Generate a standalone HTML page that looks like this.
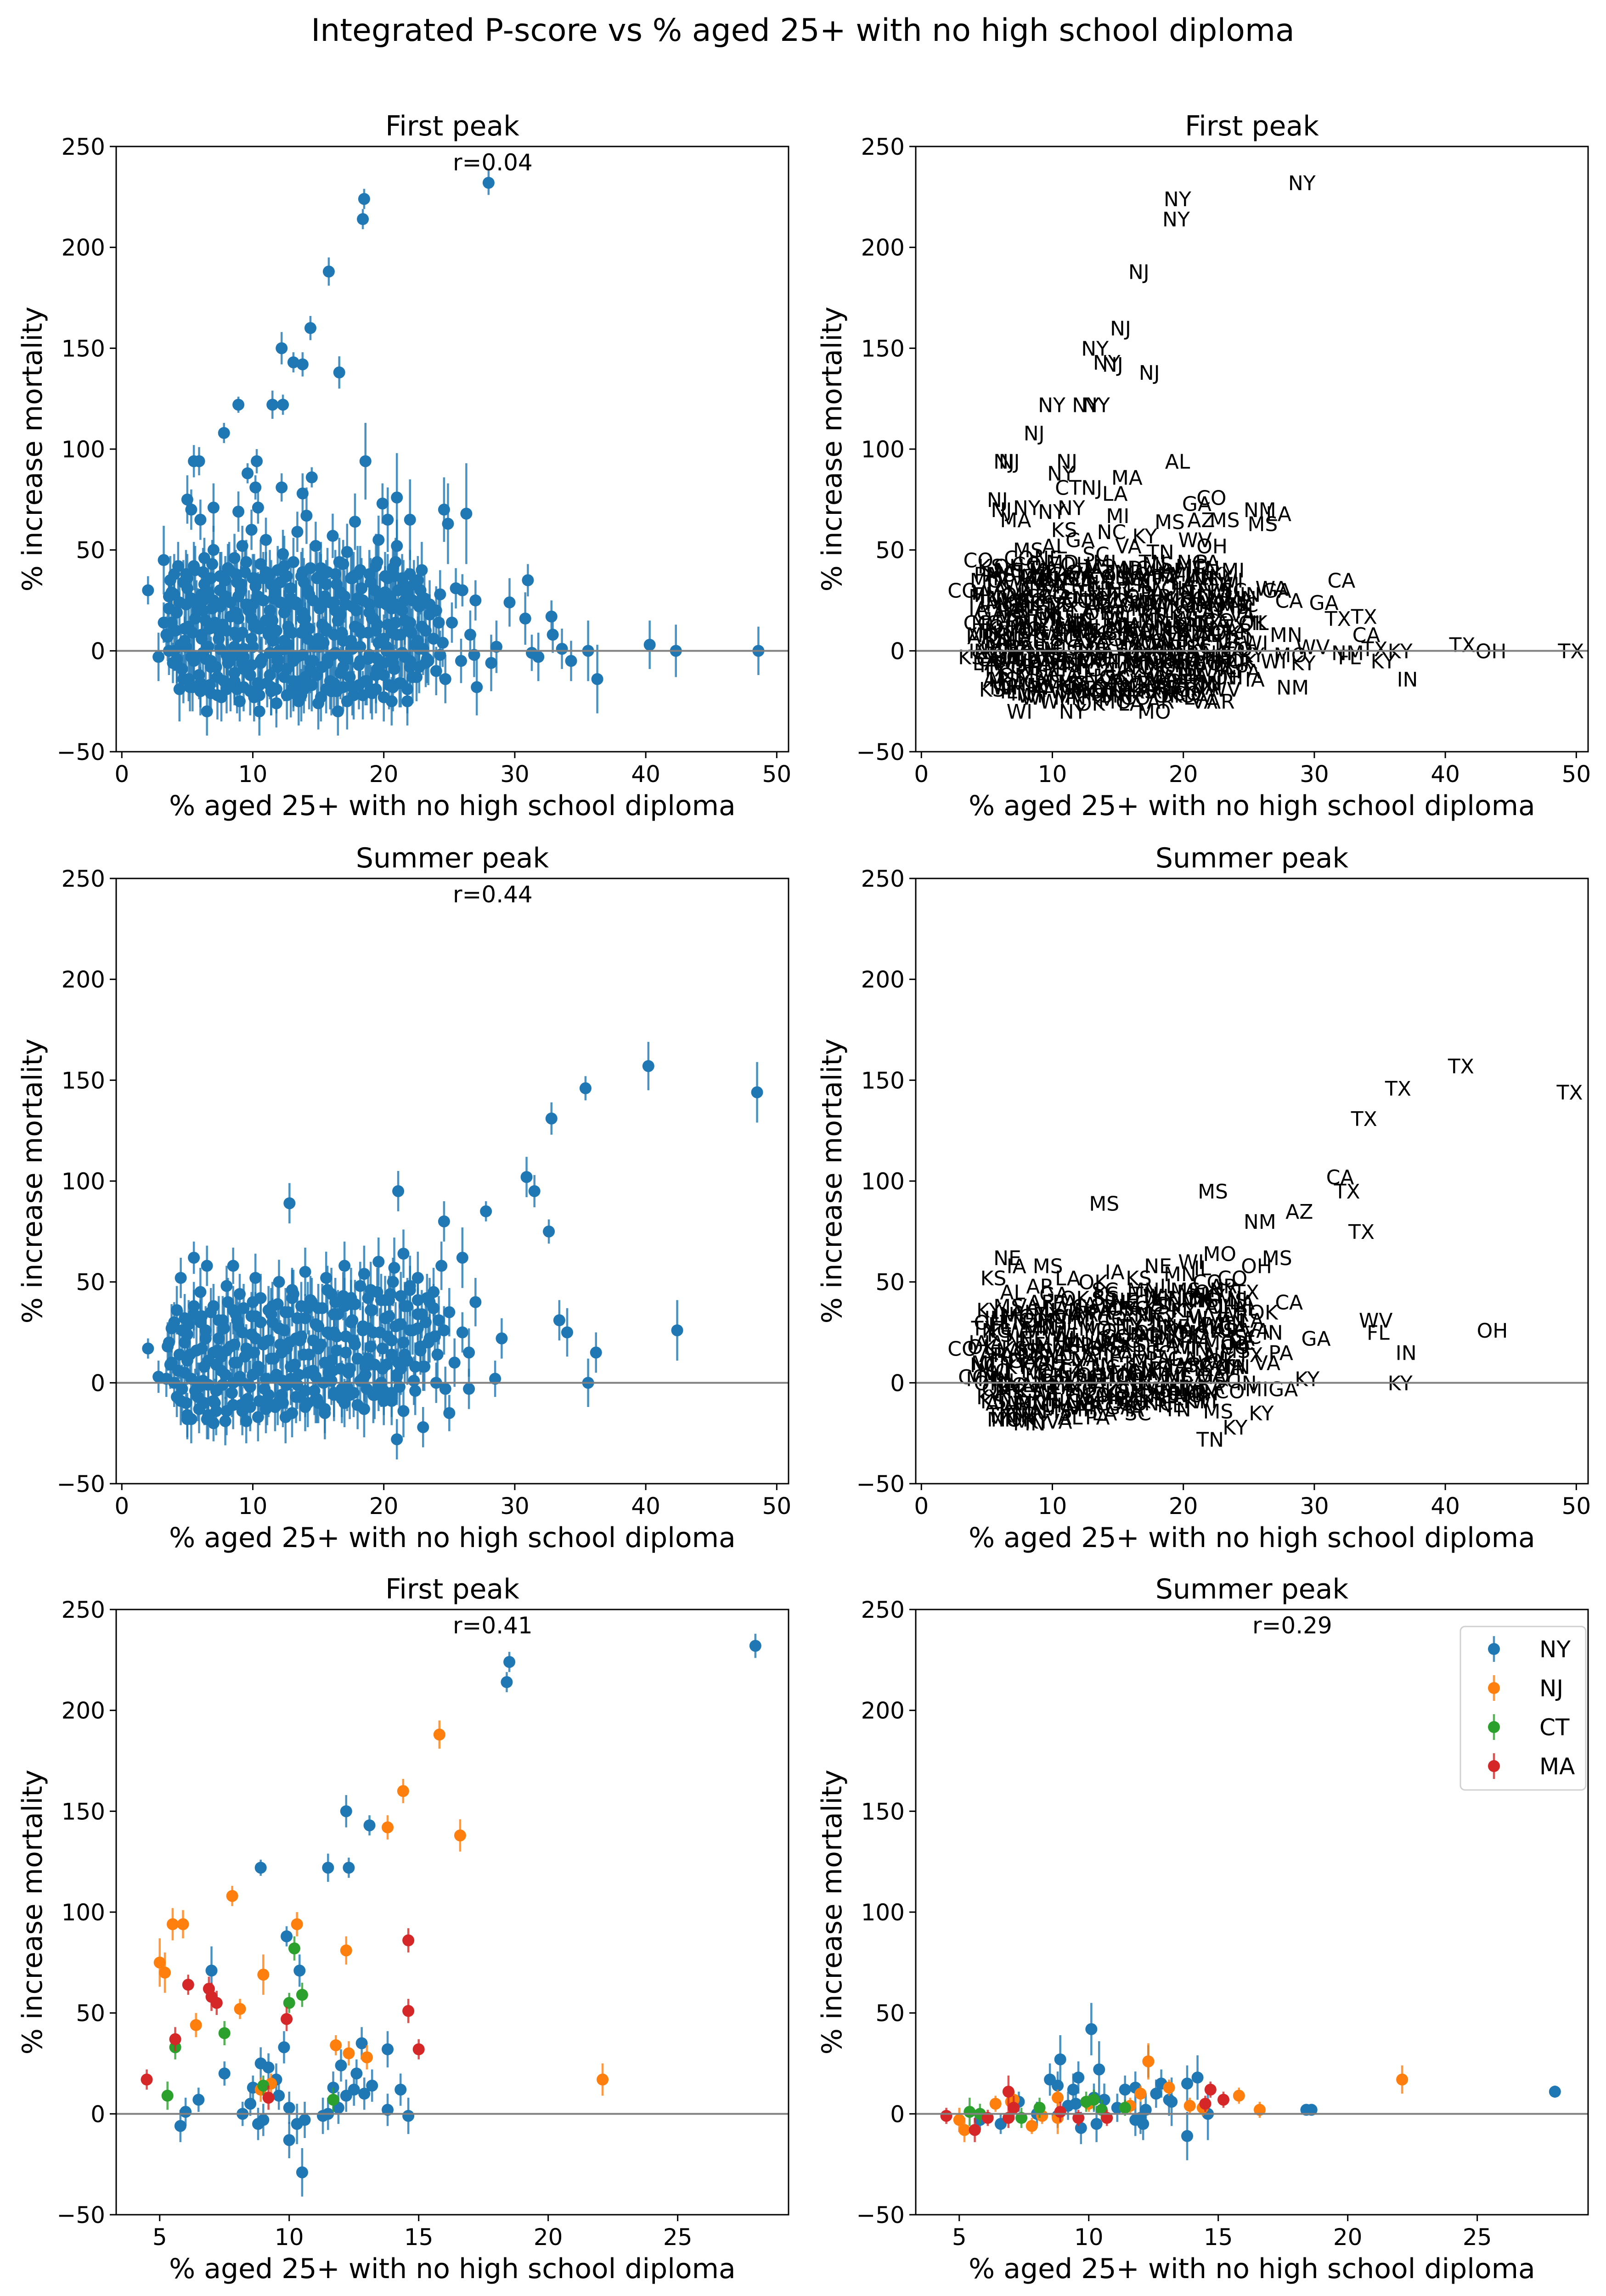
<!DOCTYPE html>
<html><head><meta charset="utf-8">
<style>
html,body{margin:0;padding:0;background:#fff;overflow:hidden;width:3497px;height:5026px;}
svg{display:block;font-family:"DejaVu Sans","Liberation Sans",sans-serif;}
</style></head>
<body>
<svg id="fig" width="3497" height="5026" viewBox="0 0 3497 5026" xmlns="http://www.w3.org/2000/svg">
<rect width="3497" height="5026" fill="#fff"/>
<text x="1748" y="89" font-size="68" text-anchor="middle" fill="#000">Integrated P-score vs % aged 25+ with no high school diploma</text>
</svg>
<script>
// ---------- DATA ----------
// First peak: outliers [x, y, err, state]
const firstOutliers = [
[28,232,6,'NY'],[18.5,224,5,'NY'],[18.4,214,5,'NY'],[15.8,188,7,'NJ'],[14.4,160,6,'NJ'],[12.2,150,8,'NY'],[13.1,143,5,'NY'],[13.8,142,6,'NJ'],[16.6,138,8,'NJ'],[11.5,122,7,'NY'],[12.3,122,5,'NY'],[8.9,122,4,'NY'],[7.8,108,5,'NJ'],[5.5,94,8,'NJ'],[5.9,94,7,'NJ'],[10.3,94,6,'NJ'],[18.6,94,19,'AL'],[9.6,88,5,'NY'],[10.2,81,6,'CT'],[12.2,81,7,'NJ'],[14.5,86,5,'MA'],[13.8,78,10,'LA'],[5,75,12,'NJ'],[5.3,70,10,'NJ'],[7,71,12,'NY'],[8.9,69,10,'NY'],[10.4,71,8,'NY'],[19.9,73,10,'GA'],[21,76,22,'CO'],[24.6,70,16,'NM'],[26.3,68,25,'LA'],[24.9,63,20,'MS'],[17.8,64,14,'MS'],[14.1,67,14,'MI'],[6,65,10,'MA'],[22,65,20,'MS'],[20.3,65,16,'AZ'],[2,30,7,'CO'],[3.2,45,17,'CO'],[31,35,8,'CA'],[32.8,17,8,'TX'],[32.9,8,9,'CA'],[33.6,1,10,'TX'],[34.3,-5,10,'KY'],[35.6,0,15,'KY'],[36.3,-14,17,'IN'],[40.3,3,12,'TX'],[42.3,0,13,'OH'],[48.6,0,12,'TX'],[29.6,24,12,'GA'],[30.8,16,13,'TX'],[31.3,-1,9,'NM'],[31.8,-3,12,'FL'],[28.6,2,13,'WV'],[28.2,-6,14,'KY'],[27.1,-18,14,'NM'],[27,25,10,'CA'],[25.5,31,10,'WA'],[26,30,8,'GA'],[3.8,29,9,'IA'],[3.2,14,10,'CO'],[2.8,-3,12,'KS'],[4.4,-19,16,'KS'],[6.5,-30,12,'WI'],[10.5,-30,12,'NY'],[16.5,-30,12,'MO'],[21.8,-25,12,'AR'],[20.6,-25,12,'VA'],[13.5,-25,12,'MO'],[9,-25,10,'WI']
];
// First peak: dense cloud [x, y, err]
const firstCloud = [
[4,38,10],[5.5,42,12],[6.8,36,9],[8.2,40,14],[9.5,44,11],[11,39,10],[12.4,42,15],[13.7,37,12],[15.2,41,13],[16.6,44,12],[18,38,14],[19.4,42,16],[20.8,37,13],[22.3,33,12],
[3.6,27,9],[5,31,10],[6.2,25,11],[7.5,30,12],[8.9,27,10],[10.2,32,13],[11.6,26,11],[12.9,31,12],[14.3,28,14],[15.6,33,12],[17,27,13],[18.3,31,15],[19.7,26,12],[21.1,30,14],[22.6,24,13],[23.5,18,10],
[4.2,19,10],[5.6,16,9],[6.9,21,11],[8.3,17,12],[9.7,20,10],[11,15,12],[12.4,19,11],[13.8,16,13],[15.1,21,12],[16.5,15,14],[17.9,20,13],[19.2,16,12],[20.6,21,15],[22,14,13],
[3.4,8,9],[4.8,11,10],[6.1,6,11],[7.4,10,12],[8.8,7,10],[10.1,12,13],[11.5,5,11],[12.8,10,12],[14.2,6,13],[15.6,11,12],[16.9,5,14],[18.3,9,13],[19.6,4,12],[21,8,14],[22.4,3,12],[23.8,6,10],
[4,0,10],[5.3,-3,11],[6.6,2,12],[8,-2,10],[9.3,1,13],[10.7,-4,11],[12,0,12],[13.4,-3,13],[14.7,2,12],[16.1,-2,14],[17.5,1,13],[18.8,-4,12],[20.2,0,14],[21.6,-3,12],[23,1,13],
[4.6,-9,11],[5.9,-12,12],[7.2,-8,10],[8.6,-11,13],[9.9,-7,11],[11.3,-12,12],[12.6,-9,13],[14,-13,12],[15.3,-8,14],[16.7,-11,13],[18.1,-7,12],[19.4,-12,14],[20.8,-9,12],[22.2,-13,13],[24,-10,12],
[5.2,-18,12],[6.8,-21,11],[8.3,-17,13],[9.8,-20,12],[11.4,-18,14],[12.9,-21,12],[14.5,-17,13],[16,-20,12],[17.6,-18,14],[19.1,-21,13],[20.4,-17,12],[11.8,-26,12],[17.2,-25,14],[15,-26,13],
[7,50,12],[9.2,52,10],[11,55,11],[12.3,48,12],[13.4,59,10],[14.8,52,12],[16.1,57,11],[17.2,49,14],[19.6,55,12],[21,52,13],[20.9,44,12],[22.9,40,14],[24.3,28,12],[25.2,14,10],[25.9,-5,11],[24.7,-14,12],[26.6,8,12],[26.9,-2,11],[9.9,60,10],[8.6,46,12],[6.3,46,10],
[4.7,34,11],[6.1,28,10],[7.9,35,12],[9.1,33,11],[10.8,36,13],[12.1,34,12],[13.3,24,11],[14.9,36,13],[16.2,24,12],[17.5,36,14],[18.9,23,12],[20.1,29,13],[21.6,25,12],
[4.5,3,10],[5.8,20,11],[7.1,14,12],[8.6,2,10],[9.9,16,12],[11.3,10,11],[12.7,3,13],[14,12,12],[15.4,4,13],[16.7,18,12],[18.2,2,14],[19.5,13,12],[20.9,14,13],[22.1,9,12],[23.2,-6,12],
[3.9,-6,10],[5.1,-14,11],[6.4,-4,12],[7.8,-15,10],[9.2,-6,13],[10.4,-16,11],[11.9,-5,12],[13.1,-15,13],[14.6,-5,12],[15.9,-15,14],[17.2,-4,13],[18.6,-15,12],[20,-6,14],[21.3,-16,12],[22.7,-8,13],
[7.6,-23,12],[10.5,-22,12],[13.7,-22,13],[18.4,-22,12],
[4.3,42],[5.6,40],[6.9,43],[8.1,41],[9.4,39],[10.6,43],[11.9,40],[13.1,44],[14.4,41],[15.7,39],[16.9,43],[18.2,40],[19.5,44],[20.7,41],[22,38],
[3.7,35],[5,36],[6.3,33],[7.6,37],[8.8,34],[10.1,36],[11.4,33],[12.6,37],[13.9,34],[15.2,36],[16.4,33],[17.7,37],[19,34],[20.3,36],[21.5,33],[22.8,30],
[4,28],[5.3,26],[6.6,29],[7.9,27],[9.1,30],[10.4,27],[11.7,29],[12.9,26],[14.2,30],[15.5,27],[16.7,29],[18,26],[19.3,30],[20.5,27],[21.8,29],[23.1,26],
[3.6,21],[4.9,23],[6.2,20],[7.5,22],[8.7,19],[10,23],[11.3,20],[12.5,22],[13.8,19],[15.1,23],[16.3,20],[17.6,22],[18.9,19],[20.2,23],[21.4,20],[22.7,22],[24,20],
[3.8,14],[5.1,12],[6.4,15],[7.7,13],[8.9,16],[10.2,13],[11.5,15],[12.7,12],[14,16],[15.3,13],[16.5,15],[17.8,12],[19.1,16],[20.3,13],[21.6,15],[22.9,12],[24.2,14],
[3.5,7],[4.8,5],[6.1,8],[7.4,6],[8.6,9],[9.9,6],[11.2,8],[12.4,5],[13.7,9],[15,6],[16.2,8],[17.5,5],[18.8,9],[20,6],[21.3,8],[22.6,5],[24.5,4],
[3.6,0],[4.9,2],[6.2,-1],[7.5,1],[8.7,-2],[10,2],[11.3,-1],[12.5,1],[13.8,-2],[15.1,2],[16.3,-1],[17.6,1],[18.9,-2],[20.2,2],[21.4,-1],[22.7,1],[24.3,-2],
[4.2,-7],[5.5,-5],[6.8,-8],[8.1,-6],[9.3,-9],[10.6,-6],[11.9,-8],[13.1,-5],[14.4,-9],[15.7,-6],[16.9,-8],[18.2,-5],[19.5,-9],[20.7,-6],[22,-8],[23.4,-5],
[4.7,-14],[6,-16],[7.3,-13],[8.6,-15],[9.8,-12],[11.1,-16],[12.4,-13],[13.6,-15],[14.9,-12],[16.2,-16],[17.4,-13],[18.7,-15],[20,-12],[21.2,-16],[22.5,-13],
[6,-20],[7.3,-22],[8.8,-19],[10.1,-23],[11.4,-20],[12.6,-22],[13.9,-19],[15.2,-23],[16.4,-20],[17.7,-22],[19,-19],[20,-23],
[4.9,38],[6.2,39],[7.5,37],[8.7,38],[10,36],[11.3,38],[12.5,37],[13.8,39],[15.1,37],[16.3,38],[17.6,36],[18.9,38],[20.1,37],[21.4,36],[22.6,35],
[4.4,24],[5.7,23],[7,25],[8.3,24],[9.5,23],[10.8,25],[12.1,24],[13.3,23],[14.6,25],[15.9,24],[17.1,23],[18.4,25],[19.7,24],[20.9,23],[22.2,25],[23.5,23],
[4.1,10],[5.4,9],[6.7,11],[8,10],[9.2,9],[10.5,11],[11.8,10],[13,9],[14.3,11],[15.6,10],[16.8,9],[18.1,11],[19.4,10],[20.6,9],[21.9,11],[23.2,10],
[4.2,-4],[5.5,-3],[6.8,-5],[8.1,-4],[9.3,-3],[10.6,-5],[11.9,-4],[13.1,-3],[14.4,-5],[15.7,-4],[16.9,-3],[18.2,-5],[19.5,-4],[20.7,-3],[22,-5],[23.3,-4],
[5.4,-18],[6.7,-17],[8,-19],[9.3,-18],[10.5,-17],[11.8,-19],[13.1,-18],[14.3,-17],[15.6,-19],[16.9,-18],[18.1,-17],[19.4,-19],[20.7,-18],[21.8,-19]
];
const firstCloudStates = "PA OH VA MI MD GA MS AL NC TN KY MO IN WI MN IA KS NE CO IL NY NJ TX LA AR OK SC FL WV VA GA MS AL TN KY NC OH PA MI IN IL WI MN IA MO KS NE OK TX LA AR SC GA VA WV KY TN AL MS FL NC OH PA NY MI MD IN IL WI IA MN MO KS NE CO TX OK AR LA MS AL GA SC NC VA KY TN WV OH PA MI IN IL WI IA MN MO KS NE CO TX OK AR LA MS AL GA SC NC VA KY TN WV OH PA MI IN IL WI IA MN MO KS NE CO TX OK AR LA MS AL GA SC NC VA KY TN WV OH PA MI IN IL WI IA MN MO KS NE CO TX OK AR LA MS AL GA SC NC VA KY TN WV OH PA MI IN IL WI IA MN MO KS NE CO TX".split(' ');

// Summer peak
const summerOutliers = [
[40.2,157,12,'TX'],[48.5,144,15,'TX'],[35.4,146,6,'TX'],[32.8,131,8,'TX'],[30.9,102,10,'CA'],[31.5,95,8,'TX'],[32.6,75,6,'TX'],[27.8,85,5,'AZ'],[12.8,89,10,'MS'],[21.1,95,10,'MS'],[24.6,80,10,'NM'],[42.4,26,15,'OH'],[36.2,15,10,'IN'],[35.6,0,12,'KY'],[34,25,12,'FL'],[33.4,31,10,'WV'],[29,22,10,'GA'],[27,40,12,'CA'],[26,62,15,'MS'],[2,17,5,'CO'],[2.8,3,8,'CO'],[5.5,62,8,'NE'],[6.5,58,10,'IA'],[4.5,52,10,'KS'],[8.5,58,9,'MS'],[21,-28,10,'TN'],[23,-22,10,'KY'],[25,-15,9,'KY'],[26.5,-3,10,'GA'],[28.5,2,9,'KY'],[24,0,10,'IN'],[15,-10,10,'CO'],[7,-20,9,'MN'],[5,-18,10,'MN']
];
const summerCloud = [
[4,30,10],[5.5,34,12],[7,38,11],[8.5,36,12],[10,40,13],[11.5,38,12],[13,42,14],[14.5,40,12],[16,44,13],[17.5,42,15],[19,46,14],[20.5,44,13],[22,48,15],[23.5,40,12],[25,35,12],
[3.6,20,9],[5,24,10],[6.4,22,11],[7.8,27,12],[9.2,25,10],[10.6,30,13],[12,27,11],[13.4,32,12],[14.8,29,13],[16.2,34,12],[17.6,31,14],[19,36,13],[20.4,33,12],[21.8,38,14],[23.2,30,13],[24.6,26,12],
[3.8,10,10],[5.2,14,9],[6.6,11,11],[8,16,12],[9.4,13,10],[10.8,19,12],[12.2,15,11],[13.6,21,13],[15,17,12],[16.4,23,14],[17.8,19,13],[19.2,25,12],[20.6,21,15],[22,26,13],[23.4,20,12],
[3.4,2,9],[4.8,5,10],[6.2,1,11],[7.6,6,12],[9,3,10],[10.4,8,13],[11.8,4,11],[13.2,9,12],[14.6,6,13],[16,11,12],[17.4,7,14],[18.8,12,13],[20.2,9,12],[21.6,14,14],[23,8,12],
[4.2,-7,10],[5.6,-4,11],[7,-9,12],[8.4,-5,10],[9.8,-2,13],[11.2,-6,11],[12.6,-1,12],[14,-4,13],[15.4,0,12],[16.8,-3,14],[18.2,1,13],[19.6,-2,12],[21,3,14],[22.4,-4,12],
[5,-16,11],[6.5,-18,10],[8,-14,12],[9.5,-19,11],[11,-13,12],[12.5,-17,13],[14,-12,12],[15.5,-15,13],[17,-10,12],[18.5,-13,14],[20,-9,12],[21.5,-14,13],
[6,45,12],[8,48,10],[10.2,52,12],[12,50,11],[14,55,12],[15.6,52,13],[17,58,12],[18.5,54,14],[19.6,60,12],[20.8,57,15],[21.5,64,12],[22.6,52,13],[23.8,45,12],[24.4,58,12],[26,25,10],[25.4,10,12],[24.7,-3,11],[26.5,15,12],[9,44,10],[13,46,11],
[4.6,26,10],[6,30,11],[7.3,16,12],[8.8,31,11],[10.2,22,12],[11.4,34,13],[12.8,20,12],[14.2,37,13],[15.7,25,12],[17,38,14],[18.4,28,12],[19.8,41,13],[21.2,29,12],[22.6,34,13],
[4.3,6,10],[5.8,-1,11],[7.2,9,12],[8.6,10,10],[10,4,12],[11.6,12,11],[12.9,2,13],[14.3,14,12],[15.8,5,13],[17.1,15,12],[18.6,4,14],[19.9,17,12],[21.3,7,13],[22.8,16,12],
[4.9,-10,10],[6.3,-10,11],[7.7,-1,12],[9.1,-11,10],[10.5,-9,12],[11.9,-10,11],[13.3,-7,13],[14.8,-8,12],[16.2,-6,13],[17.7,-5,12],[19.2,-6,14],[20.6,-5,12],
[4.2,36],[5.5,38],[6.8,35],[8.1,40],[9.3,37],[10.6,42],[11.9,39],[13.1,44],[14.4,41],[15.7,46],[16.9,43],[18.2,48],[19.5,45],[20.7,50],[22,46],[23.3,42],
[3.8,27],[5.1,29],[6.4,26],[7.7,31],[8.9,28],[10.2,33],[11.5,30],[12.7,35],[14,32],[15.3,37],[16.5,34],[17.8,39],[19.1,36],[20.4,41],[21.6,38],[22.9,34],[24.2,31],
[3.5,18],[4.8,20],[6.1,17],[7.4,22],[8.6,19],[9.9,24],[11.2,21],[12.4,26],[13.7,23],[15,28],[16.2,25],[17.5,30],[18.8,27],[20.1,32],[21.3,29],[22.6,27],[23.9,23],
[3.7,9],[5,11],[6.3,8],[7.6,13],[8.8,10],[10.1,15],[11.4,12],[12.6,17],[13.9,14],[15.2,19],[16.4,16],[17.7,21],[19,18],[20.3,23],[21.5,20],[22.8,18],[24.1,14],
[4,0],[5.3,2],[6.6,-1],[7.9,4],[9.1,1],[10.4,6],[11.7,3],[12.9,8],[14.2,5],[15.5,10],[16.7,7],[18,12],[19.3,9],[20.6,14],[21.8,11],[23.1,8],
[4.5,-9],[5.8,-7],[7.1,-10],[8.4,-5],[9.6,-8],[10.9,-3],[12.2,-6],[13.4,-1],[14.7,-4],[16,1],[17.2,-2],[18.5,3],[19.8,0],[21,4],[22.3,1],
[5.3,-18],[6.6,-16],[7.9,-19],[9.2,-14],[10.4,-17],[11.7,-12],[13,-15],[14.2,-10],[15.5,-13],[16.8,-8],[18,-11],[19.3,-6],[20.6,-9],
[4.8,32],[6.1,33],[7.4,31],[8.7,34],[9.9,33],[11.2,36],[12.5,35],[13.7,38],[15,37],[16.3,40],[17.5,39],[18.8,42],[20.1,41],[21.3,43],[22.6,41],[23.8,37],
[4.4,14],[5.7,16],[7,15],[8.3,18],[9.5,17],[10.8,20],[12.1,19],[13.3,22],[14.6,21],[15.9,24],[17.1,23],[18.4,26],[19.7,25],[20.9,28],[22.2,26],[23.5,22],
[4.6,-3],[5.9,-2],[7.2,-4],[8.5,0],[9.7,-1],[11,2],[12.3,1],[13.5,4],[14.8,3],[16.1,6],[17.3,5],[18.6,8],[19.9,7],[21.1,10],[22.4,8],
[5.9,-13],[7.2,-14],[8.5,-11],[9.8,-12],[11.1,-9],[12.3,-10],[13.6,-7],[14.9,-8],[16.2,-5],[17.4,-6],[18.7,-3],[20,-4],[21.2,-2]
];
const summerCloudStates = "OH IN VA MI PA GA SC NC TN KY MS AL AR LA OK IA KS NE MN WI IL MO CO NY NJ TX FL WV OH IN VA MI PA GA SC NC TN KY MS AL AR LA OK IA KS NE MN WI IL MO CO TX OH IN VA MI PA GA SC NC TN KY MS AL AR LA OK IA KS NE MN WI IL MO CO TX OH IN VA MI PA GA SC NC TN KY MS AL AR LA OK IA KS NE MN WI IL MO CO TX OH IN VA MI PA GA SC NC TN KY MS AL AR LA OK IA KS NE MN WI IL MO CO TX OH IN VA MI PA GA SC NC TN KY MS AL AR LA".split(' ');

// Northeast first peak [x, y, err]
const nyFirst = [[28,232,6],[18.5,224,5],[18.4,214,5],[12.2,150,8],[13.1,143,5],[11.5,122,7],[12.3,122,5],[8.9,122,4],[9.9,88,5],[10.4,71,8],[7,71,12],[5.8,-6,8],[6.5,7,6],[7.5,20,6],[8.2,0,6],[8.5,5,6],[8.9,25,8],[9,-3,8],[9.5,17,8],[9.8,33,8],[10,-13,9],[10.3,-5,10],[10.5,-29,12],[10.6,-3,9],[11.3,-1,9],[11.7,13,8],[11.9,3,8],[12.2,9,8],[12.5,12,8],[12.8,35,8],[12.6,20,7],[13.2,14,8],[13.8,32,9],[13.8,2,8],[14.3,12,8],[14.6,-1,9],[9.2,23,7],[9.6,9,7],[8.6,13,6],[10,3,8],[11.5,0,8],[12,24,8],[6,1,7],[12.9,10,8],[8.8,-5,8]];
const njFirst = [[15.8,188,7],[14.4,160,6],[13.8,142,6],[16.6,138,8],[7.8,108,5],[5.5,94,8],[5.9,94,7],[10.3,94,6],[12.2,81,7],[9,69,10],[5,75,12],[5.2,70,10],[6.4,44,6],[8.1,52,5],[11.8,34,5],[12.3,30,6],[13,28,6],[8.9,12,6],[22.1,17,8],[9.3,15,5]];
const ctFirst = [[10.2,82,6],[10.5,59,6],[10,55,5],[7.5,40,6],[5.6,33,6],[5.3,9,7],[9,14,5],[11.7,7,6]];
const maFirst = [[4.5,17,5],[5.6,37,6],[6.1,64,5],[6.9,62,6],[7,58,7],[7.2,55,6],[9.9,47,6],[14.6,86,6],[14.6,51,6],[15,32,5],[9.2,8,6]];
// Northeast summer peak
const nySummer = [[28,11,3],[18.4,2,2],[18.6,2,2],[10.1,42,13],[8.9,27,12],[8.5,17,8],[8.8,14,7],[9.4,12,8],[9.6,18,8],[10.4,22,14],[12.3,26,8],[11.4,12,7],[11.8,13,8],[12.6,10,7],[12.8,15,7],[13.1,7,8],[13.2,6,12],[13.8,15,9],[14.2,18,11],[13.8,-11,12],[14.6,0,13],[10.2,8,7],[9.5,5,8],[9.7,-7,8],[10.3,-5,9],[11.1,3,7],[11.8,-3,8],[12.1,-5,8],[12.2,2,8],[6.6,-5,5],[7.3,6,5],[5.8,-3,5],[8,0,6],[9.2,4,7],[10.6,7,8],[12,-2,8],[8.8,-1,6]];
const njSummer = [[22.1,17,7],[12.3,26,9],[15.8,9,4],[16.6,2,4],[13.1,13,4],[12,10,4],[13.9,4,4],[14.4,3,4],[6.4,5,4],[7,6,4],[7.8,-6,4],[8.8,8,4],[8.2,-1,4],[8.8,-2,8],[5,-3,6],[5.2,-8,6],[11.6,4,4],[10,5,4],[7.1,7,4]];
const ctSummer = [[5.4,1,7],[5.8,0,5],[7.4,-2,5],[8.1,3,5],[9.9,6,5],[10.2,7,5],[10.5,2,5],[11.4,3,4]];
const maSummer = [[4.5,-1,4],[6.9,11,8],[7.1,3,6],[6.9,-2,5],[5.6,-8,6],[6.1,-2,4],[8.9,1,5],[9.6,-2,4],[10.7,-2,4],[14.7,12,4],[14.5,5,4],[15.2,7,4]];

const yTicks = [-50,0,50,100,150,200,250];
const xTicksWide = [0,10,20,30,40,50];
const xTicksNarrow = [5,10,15,20,25];
const rValues = ['r=0.04','r=0.44','r=0.41','r=0.29'];
const legendStates = ['NY','NJ','CT','MA'];

// ---------- DRAWING ----------
const NS='http://www.w3.org/2000/svg';
const svg=document.getElementById('fig');
const C={blue:'#1f77b4',orange:'#ff7f0e',green:'#2ca02c',red:'#d62728'};
function el(tag,attrs,parent){const e=document.createElementNS(NS,tag);for(const k in attrs)e.setAttribute(k,attrs[k]);(parent||svg).appendChild(e);return e;}

const COLS=[253,1994], AW=1464, AH=1318, ROWS=[319,1913,3505];
let clipN=0;
function makeAxes(col,row,xmin,xmax,xticks,title,rtext,name){
  const L=COLS[col],T=ROWS[row],R=L+AW,B=T+AH;
  const g=el('g',{});
  
  
  const sx=v=>L+(v-xmin)/(xmax-xmin)*AW;
  const sy=v=>B-(v+50)/300*AH;
  const id='clip'+(clipN++);
  const cp=el('clipPath',{id:id},g);el('rect',{x:L,y:T,width:AW,height:AH},cp);
  const plot=el('g',{'clip-path':'url(#'+id+')'},g);
  yTicks.forEach(v=>{
    el('line',{x1:L-14,x2:L,y1:sy(v),y2:sy(v),stroke:'#000','stroke-width':3},g);
    const t=el('text',{x:L-24,y:sy(v)+18,'font-size':50,'text-anchor':'end'},g);
    t.textContent=(v<0?'\u2212'+(-v):v);
    
    
  });
  xticks.forEach(v=>{
    el('line',{x1:sx(v),x2:sx(v),y1:B,y2:B+14,stroke:'#000','stroke-width':3},g);
    const t=el('text',{x:sx(v),y:B+66,'font-size':50,'text-anchor':'middle'},g);
    t.textContent=v;
    
    
  });
  const xl=el('text',{x:L+AW/2,y:B+138,'font-size':60,'text-anchor':'middle'},g);
  xl.textContent='% aged 25+ with no high school diploma';
  
  
  const yl=el('text',{x:0,y:0,'font-size':60,'text-anchor':'middle',transform:`translate(${L-162},${T+AH/2}) rotate(-90)`},g);
  yl.textContent='% increase mortality';
  
  
  const tt=el('text',{x:L+AW/2,y:T-24,'font-size':60,'text-anchor':'middle'},g);
  tt.textContent=title;
  
  
  if(rtext){
    const rt=el('text',{x:L+0.56*AW,y:T+52,'font-size':50,'text-anchor':'middle'},g);
    rt.textContent=rtext;
    
    
  }
  return {g,plot,sx,sy,L,T,R,B,finish(){
    el('line',{x1:L,x2:R,y1:sy(0),y2:sy(0),stroke:'#808080','stroke-width':4},plot);
    const fr=el('rect',{x:L,y:T,width:AW,height:AH,fill:'none',stroke:'#000','stroke-width':3},g);
    
    
  }};
}
function errPoints(ax,pts,color,name){
  const g=el('g',{},ax.plot);
  
  
  pts.forEach(p=>{
    const e=p[2]||12;
    el('line',{x1:ax.sx(p[0]),x2:ax.sx(p[0]),y1:ax.sy(p[1]-e),y2:ax.sy(p[1]+e),stroke:color,'stroke-width':4.5,opacity:0.8},g);
  });
  pts.forEach(p=>{
    const c=el('circle',{cx:ax.sx(p[0]),cy:ax.sy(p[1]),r:13,fill:color},g);
    
    
  });
}
function labels(ax,pts,states,name){
  const g=el('g',{'font-size':44,fill:'#000'},ax.plot);
  
  
  pts.forEach((p,i)=>{
    const t=el('text',{x:ax.sx(p[0]),y:ax.sy(p[1])+16},g);
    t.textContent=p[3]||states[i%states.length];
  });
}

const a1=makeAxes(0,0,-0.43,50.9,xTicksWide,'First peak',rValues[0],'first-peak-scatter');
errPoints(a1,firstCloud,C.blue,'first-peak-cloud');
errPoints(a1,firstOutliers,C.blue,'first-peak-outliers');
a1.finish();
const a2=makeAxes(1,0,-0.43,50.9,xTicksWide,'First peak',null,'first-peak-labels');
labels(a2,firstCloud,firstCloudStates,'first-peak-cloud-labels');
labels(a2,firstOutliers,[],'first-peak-outlier-labels');
a2.finish();
const a3=makeAxes(0,1,-0.43,50.9,xTicksWide,'Summer peak',rValues[1],'summer-peak-scatter');
errPoints(a3,summerCloud,C.blue,'summer-peak-cloud');
errPoints(a3,summerOutliers,C.blue,'summer-peak-outliers');
a3.finish();
const a4=makeAxes(1,1,-0.43,50.9,xTicksWide,'Summer peak',null,'summer-peak-labels');
labels(a4,summerCloud,summerCloudStates,'summer-peak-cloud-labels');
labels(a4,summerOutliers,[],'summer-peak-outlier-labels');
a4.finish();
const a5=makeAxes(0,2,3.32,29.28,xTicksNarrow,'First peak',rValues[2],'northeast-first-peak');
errPoints(a5,nyFirst,C.blue,'series-ny');
errPoints(a5,njFirst,C.orange,'series-nj');
errPoints(a5,ctFirst,C.green,'series-ct');
errPoints(a5,maFirst,C.red,'series-ma');
a5.finish();
const a6=makeAxes(1,2,3.32,29.28,xTicksNarrow,'Summer peak',rValues[3],'northeast-summer-peak');
errPoints(a6,nySummer,C.blue,'series-ny');
errPoints(a6,njSummer,C.orange,'series-nj');
errPoints(a6,ctSummer,C.green,'series-ct');
errPoints(a6,maSummer,C.red,'series-ma');
a6.finish();

const lg=el('g',{});


el('rect',{x:3180,y:3542,width:273,height:356,rx:10,fill:'#fff','fill-opacity':0.8,stroke:'#d0d0d0','stroke-width':3},lg);
const legColors=[C.blue,C.orange,C.green,C.red];
legendStates.forEach((s,i)=>{
  const y=3591+i*85;
  const e=el('g',{},lg);
  
  
  el('line',{x1:3253,x2:3253,y1:y-28,y2:y+28,stroke:legColors[i],'stroke-width':4.5,opacity:0.8},e);
  el('circle',{cx:3253,cy:y,r:13,fill:legColors[i]},e);
  const t=el('text',{x:3352,y:y+18,'font-size':50},e);
  t.textContent=s;
});
</script>
</body></html>
